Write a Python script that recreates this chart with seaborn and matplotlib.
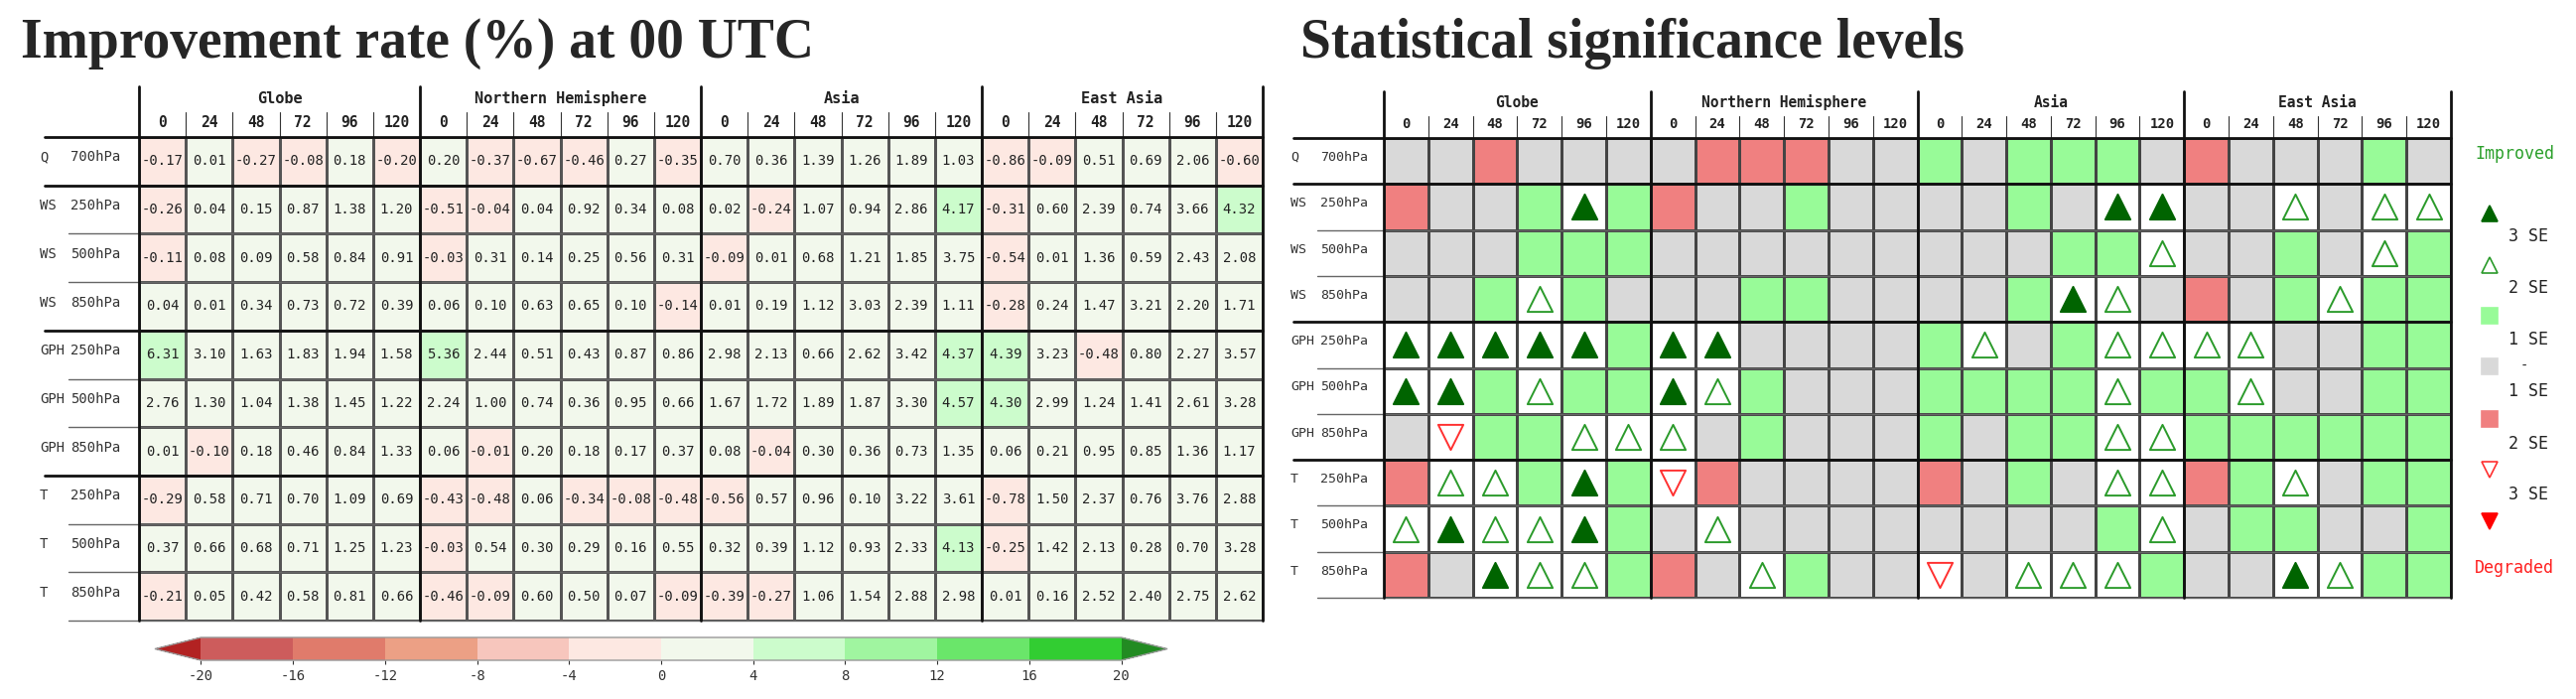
import numpy as np
import pandas as pd
import matplotlib
matplotlib.use("Agg")
import matplotlib.pyplot as plt
import matplotlib.transforms as mtransforms
from matplotlib.colors import ListedColormap, BoundaryNorm
import seaborn as sns

# ---- data ----
regions = ["Globe", "Northern Hemisphere", "Asia", "East Asia"]
hours = ["0", "24", "48", "72", "96", "120"]
variables = ["Q", "WS", "WS", "WS", "GPH", "GPH", "GPH", "T", "T", "T"]
plevels = ["700hPa", "250hPa", "500hPa", "850hPa", "250hPa", "500hPa",
           "850hPa", "250hPa", "500hPa", "850hPa"]

# improvement rate (%), rows = variables, cols = forecast hours
rate_globe = [[-0.17, 0.01, -0.27, -0.08, 0.18, -0.20],
              [-0.26, 0.04, 0.15, 0.87, 1.38, 1.20],
              [-0.11, 0.08, 0.09, 0.58, 0.84, 0.91],
              [0.04, 0.01, 0.34, 0.73, 0.72, 0.39],
              [6.31, 3.10, 1.63, 1.83, 1.94, 1.58],
              [2.76, 1.30, 1.04, 1.38, 1.45, 1.22],
              [0.01, -0.10, 0.18, 0.46, 0.84, 1.33],
              [-0.29, 0.58, 0.71, 0.70, 1.09, 0.69],
              [0.37, 0.66, 0.68, 0.71, 1.25, 1.23],
              [-0.21, 0.05, 0.42, 0.58, 0.81, 0.66]]
rate_nh = [[0.20, -0.37, -0.67, -0.46, 0.27, -0.35],
           [-0.51, -0.04, 0.04, 0.92, 0.34, 0.08],
           [-0.03, 0.31, 0.14, 0.25, 0.56, 0.31],
           [0.06, 0.10, 0.63, 0.65, 0.10, -0.14],
           [5.36, 2.44, 0.51, 0.43, 0.87, 0.86],
           [2.24, 1.00, 0.74, 0.36, 0.95, 0.66],
           [0.06, -0.01, 0.20, 0.18, 0.17, 0.37],
           [-0.43, -0.48, 0.06, -0.34, -0.08, -0.48],
           [-0.03, 0.54, 0.30, 0.29, 0.16, 0.55],
           [-0.46, -0.09, 0.60, 0.50, 0.07, -0.09]]
rate_asia = [[0.70, 0.36, 1.39, 1.26, 1.89, 1.03],
             [0.02, -0.24, 1.07, 0.94, 2.86, 4.17],
             [-0.09, 0.01, 0.68, 1.21, 1.85, 3.75],
             [0.01, 0.19, 1.12, 3.03, 2.39, 1.11],
             [2.98, 2.13, 0.66, 2.62, 3.42, 4.37],
             [1.67, 1.72, 1.89, 1.87, 3.30, 4.57],
             [0.08, -0.04, 0.30, 0.36, 0.73, 1.35],
             [-0.56, 0.57, 0.96, 0.10, 3.22, 3.61],
             [0.32, 0.39, 1.12, 0.93, 2.33, 4.13],
             [-0.39, -0.27, 1.06, 1.54, 2.88, 2.98]]
rate_ea = [[-0.86, -0.09, 0.51, 0.69, 2.06, -0.60],
           [-0.31, 0.60, 2.39, 0.74, 3.66, 4.32],
           [-0.54, 0.01, 1.36, 0.59, 2.43, 2.08],
           [-0.28, 0.24, 1.47, 3.21, 2.20, 1.71],
           [4.39, 3.23, -0.48, 0.80, 2.27, 3.57],
           [4.30, 2.99, 1.24, 1.41, 2.61, 3.28],
           [0.06, 0.21, 0.95, 0.85, 1.36, 1.17],
           [-0.78, 1.50, 2.37, 0.76, 3.76, 2.88],
           [-0.25, 1.42, 2.13, 0.28, 0.70, 3.28],
           [0.01, 0.16, 2.52, 2.40, 2.75, 2.62]]

# significance: 3/2/1 = improved by 3/2/1 SE, 0 = within 1 SE, -1/-2/-3 = degraded
sig_globe = [[0, 0, -1, 0, 0, 0],
             [-1, 0, 0, 1, 3, 1],
             [0, 0, 0, 1, 1, 1],
             [0, 0, 1, 2, 1, 0],
             [3, 3, 3, 3, 3, 1],
             [3, 3, 1, 2, 1, 1],
             [0, -2, 1, 1, 2, 2],
             [-1, 2, 2, 1, 3, 1],
             [2, 3, 2, 2, 3, 1],
             [-1, 0, 3, 2, 2, 1]]
sig_nh = [[0, -1, -1, -1, 0, 0],
          [-1, 0, 0, 1, 0, 0],
          [0, 0, 0, 0, 0, 0],
          [0, 0, 1, 1, 0, 0],
          [3, 3, 0, 0, 0, 0],
          [3, 2, 1, 0, 0, 0],
          [2, 0, 1, 0, 0, 0],
          [-2, -1, 0, 0, 0, 0],
          [0, 2, 0, 0, 0, 0],
          [-1, 0, 2, 1, 0, 0]]
sig_asia = [[1, 0, 1, 1, 1, 0],
            [0, 0, 1, 0, 3, 3],
            [0, 0, 0, 1, 1, 2],
            [0, 0, 1, 3, 2, 0],
            [1, 2, 0, 1, 2, 2],
            [1, 1, 1, 1, 2, 1],
            [1, 0, 1, 1, 2, 2],
            [-1, 0, 1, 0, 2, 2],
            [0, 0, 0, 0, 1, 2],
            [-2, 0, 2, 2, 2, 1]]
sig_ea = [[-1, 0, 0, 0, 1, 0],
          [0, 0, 2, 0, 2, 2],
          [0, 0, 1, 0, 2, 1],
          [-1, 0, 1, 2, 1, 1],
          [2, 2, 0, 0, 1, 1],
          [1, 2, 0, 0, 1, 1],
          [1, 1, 1, 1, 1, 1],
          [-1, 1, 2, 0, 1, 1],
          [0, 1, 1, 0, 0, 1],
          [0, 0, 3, 2, 1, 1]]

cbar_ticks = [-20, -16, -12, -8, -4, 0, 4, 8, 12, 16, 20]

# ---- style ----
sns.set_style("white")
plt.rcParams["font.family"] = ["DejaVu Sans Mono"]
plt.rcParams["axes.unicode_minus"] = False

W, H = 2595, 704
fig = plt.figure(figsize=(W / 100, H / 100), dpi=100)

row_names = [f"{v} {p}" for v, p in zip(variables, plevels)]
col_names = [f"{r} {h}" for r in regions for h in hours]
rate = np.hstack([rate_globe, rate_nh, rate_asia, rate_ea])
sig = np.hstack([sig_globe, sig_nh, sig_asia, sig_ea])
df_rate = pd.DataFrame(rate, index=row_names, columns=col_names)
df_sig = pd.DataFrame(sig, index=row_names, columns=col_names)

rate_colors = ["#cd5c5c", "#e07b6b", "#eca085", "#f7c6bd", "#fde8e2",
               "#f2f8ec", "#ccfccc", "#a0f5a0", "#6ae66a", "#32cd32"]
rate_cmap = ListedColormap(rate_colors)
rate_cmap.set_under("#b22222")
rate_cmap.set_over("#228b22")
rate_norm = BoundaryNorm(cbar_ticks, rate_cmap.N)

sig_cmap = ListedColormap(["white", "white", "#f08080", "#d9d9d9",
                           "#98fb98", "white", "white"])
sig_norm = BoundaryNorm(np.arange(-3.5, 4.5, 1), sig_cmap.N)


def fx(px):
    return px / W


def fy(py):
    return 1 - py / H


def draw_frame(ax, left_px, right_px, top_px, bot_px, thick_x, thin_x,
               grp_top, hr_top, grp_lab_y, hr_lab_y, lab_var_x, lab_lev_x,
               lab_size, grp_size, hr_size):
    ax.set_position([fx(left_px), fy(bot_px), fx(right_px - left_px),
                     (bot_px - top_px) / H])
    tx = mtransforms.blended_transform_factory(ax.transData, fig.transFigure)
    ty = mtransforms.blended_transform_factory(fig.transFigure, ax.transData)
    ncol = len(regions) * len(hours)
    nrow = len(row_names)
    # vertical lines
    for j in range(ncol + 1):
        if j % len(hours) == 0:
            ax.plot([j, j], [fy(grp_top), fy(bot_px)], color="#111", lw=2,
                    transform=tx, clip_on=False, zorder=6)
        else:
            ax.plot([j, j], [fy(hr_top), fy(top_px)], color="#333", lw=0.8,
                    transform=tx, clip_on=False, zorder=6)
    # horizontal lines
    for i in range(nrow + 1):
        if i in (0, 1, 4, 7):
            ax.plot([fx(thick_x), fx(right_px)], [i, i], color="#111", lw=2,
                    transform=ty, clip_on=False, zorder=6)
        else:
            ax.plot([fx(thin_x), fx(right_px)], [i, i], color="#666", lw=1,
                    transform=ty, clip_on=False, zorder=5)
    # header labels
    for g, reg in enumerate(regions):
        ax.text(g * len(hours) + len(hours) / 2, fy(grp_lab_y), reg,
                transform=tx, ha="center", va="center", fontsize=grp_size,
                fontweight="bold", color="#222")
        for k, h in enumerate(hours):
            ax.text(g * len(hours) + k + 0.5, fy(hr_lab_y), h, transform=tx,
                    ha="center", va="center", fontsize=hr_size,
                    fontweight="bold", color="#222")
    # row labels
    for i, (v, p) in enumerate(zip(variables, plevels)):
        ax.text(fx(lab_var_x), i + 0.42, v, transform=ty, ha="left",
                va="center", fontsize=lab_size, color="#333")
        ax.text(fx(lab_lev_x), i + 0.42, p, transform=ty, ha="left",
                va="center", fontsize=lab_size, color="#333")


# ---- left: improvement rate ----
axL = fig.add_axes([0.05, 0.1, 0.4, 0.7])
cax = fig.add_axes([fx(156), fy(665), fx(1020), 23 / H])
sns.heatmap(df_rate, ax=axL, cmap=rate_cmap, norm=rate_norm, annot=True,
            fmt=".2f", annot_kws={"size": 10, "color": "#222"},
            linewidths=0.8, linecolor="#555", cbar_ax=cax,
            cbar_kws={"orientation": "horizontal", "extend": "both",
                      "ticks": cbar_ticks},
            xticklabels=False, yticklabels=False)
draw_frame(axL, 140, 1272, 138, 625, 45, 69, 87, 113, 99, 123, 40, 71,
           10, 11, 10.5)
cb = axL.collections[0].colorbar
cb.outline.set_linewidth(1)
cb.outline.set_edgecolor("#999")
cb.ax.tick_params(labelsize=10, length=3, colors="#333")
cb.ax.set_xticklabels([str(t) for t in cbar_ticks])

# ---- right: significance levels ----
axR = fig.add_axes([0.55, 0.1, 0.4, 0.7])
sns.heatmap(df_sig, ax=axR, cmap=sig_cmap, norm=sig_norm, cbar=False,
            linewidths=0.8, linecolor="#444",
            xticklabels=False, yticklabels=False)
draw_frame(axR, 1394, 2469, 139, 602, 1303, 1327, 92, 117, 103, 125, 1300,
           1330, 9.5, 10.5, 10)

markers = {3: dict(marker="^", facecolor="#006400", edgecolor="#006400"),
           2: dict(marker="^", facecolor="white", edgecolor="#2a9a2a"),
           -2: dict(marker="v", facecolor="white", edgecolor="#ff3030"),
           -3: dict(marker="v", facecolor="#ff0000", edgecolor="#ff0000")}
for code, st in markers.items():
    rr, cc = np.where(sig == code)
    axR.scatter(cc + 0.5, rr + 0.5, s=330, linewidths=1.4, zorder=7,
                clip_on=False, **st)

# ---- legend for significance ----
lg = fig.add_axes([0, 0, 1, 1], facecolor="none")
lg.set_xlim(0, W)
lg.set_ylim(H, 0)
lg.axis("off")
lg.text(2533, 155, "Improved", color="#2ca02c", fontsize=12, ha="center",
        va="center")
lg.text(2533, 572, "Degraded", color="#ff2020", fontsize=12, ha="center",
        va="center")
keys = [(215, "^", "#006400", "#006400"),
        (267, "^", "white", "#2a9a2a"),
        (318, "s", "#98fb98", "#98fb98"),
        (369, "s", "#d9d9d9", "#d9d9d9"),
        (422, "s", "#f08080", "#f08080"),
        (473, "v", "white", "#ff3030"),
        (525, "v", "#ff0000", "#ff0000")]
for yk, mk, fc, ec in keys:
    lg.plot([2508], [yk], marker=mk, markersize=12, markerfacecolor=fc,
            markeredgecolor=ec, markeredgewidth=1.2, linestyle="none")
for yk, lab in [(238, "3 SE"), (290, "2 SE"), (342, "1 SE"), (394, "1 SE"),
                (447, "2 SE"), (498, "3 SE")]:
    lg.text(2527, yk, lab, fontsize=12, color="#222", ha="left", va="center")
lg.text(2543, 369, "-", fontsize=10, color="#222", ha="center", va="center")

# ---- titles ----
fig.text(fx(21), fy(58), "Improvement rate (%) at 00 UTC",
         family="Liberation Serif", fontweight="bold", fontsize=40,
         va="baseline", ha="left")
fig.text(fx(1310), fy(58), "Statistical significance levels",
         family="Liberation Serif", fontweight="bold", fontsize=40,
         va="baseline", ha="left")

fig.savefig("out.png", dpi=100, facecolor="white")
